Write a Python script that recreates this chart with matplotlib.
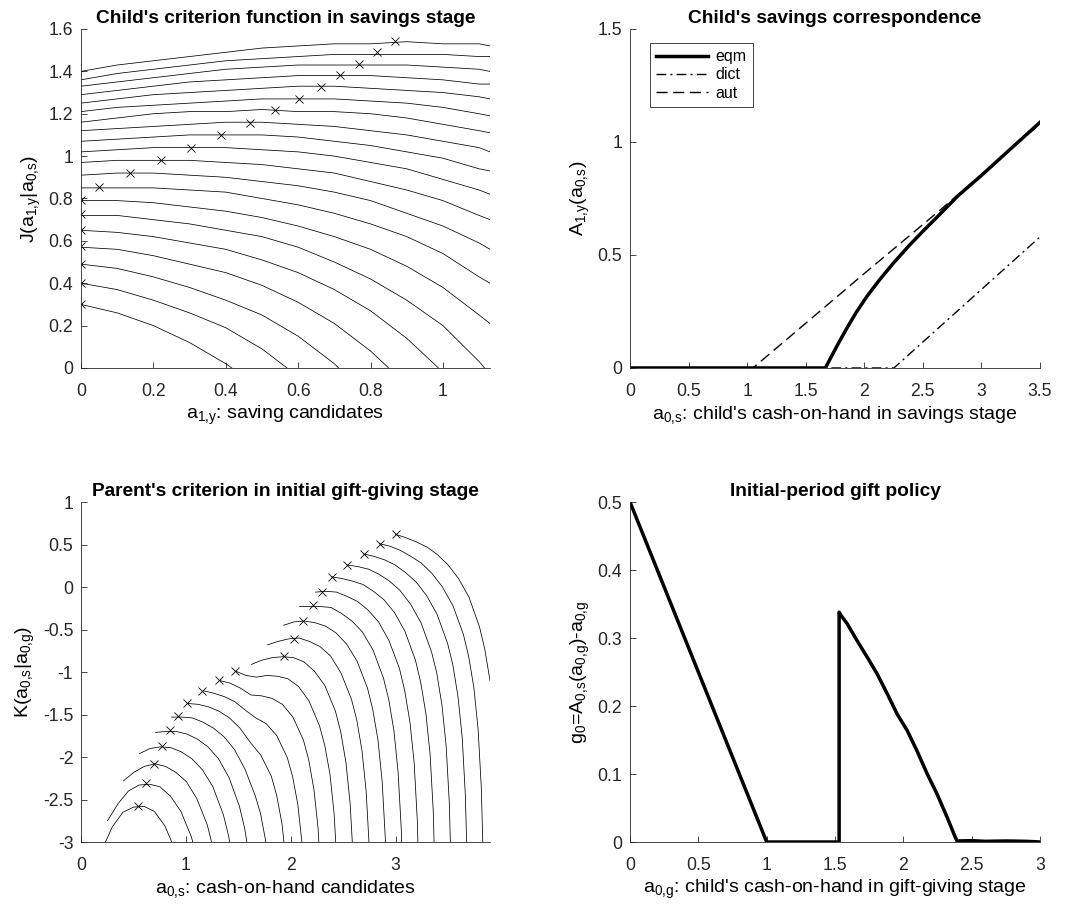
import numpy as np
import matplotlib
matplotlib.use("Agg")
import matplotlib.pyplot as plt
from matplotlib.ticker import FuncFormatter

plt.rcParams['font.family'] = ['Liberation Sans', 'DejaVu Sans']
plt.rcParams['mathtext.fontset'] = 'custom'
plt.rcParams['mathtext.rm'] = 'Liberation Sans'
plt.rcParams['mathtext.it'] = 'Liberation Sans'

# top-left: J(a1|a0s), one row per a0s value, sampled on a shared a1 grid
tl_grid = [0, 0.1, 0.2, 0.3, 0.4, 0.5, 0.6, 0.7, 0.8, 0.9, 1.0, 1.1, 1.13]
tl_y = [
    [0.30, 0.26, 0.20, 0.12, 0.02, -0.10],
    [0.40, 0.37, 0.32, 0.26, 0.19, 0.09, -0.04],
    [0.49, 0.47, 0.43, 0.38, 0.32, 0.25, 0.15, 0.02, -0.15],
    [0.57, 0.56, 0.53, 0.49, 0.45, 0.39, 0.31, 0.21, 0.08, -0.08],
    [0.65, 0.64, 0.62, 0.59, 0.56, 0.51, 0.45, 0.37, 0.27, 0.14, -0.02],
    [0.72, 0.72, 0.70, 0.68, 0.65, 0.62, 0.57, 0.50, 0.42, 0.32, 0.20, 0.03, -0.03],
    [0.79, 0.79, 0.78, 0.76, 0.74, 0.71, 0.67, 0.62, 0.56, 0.48, 0.38, 0.25, 0.21],
    [0.85, 0.85, 0.85, 0.84, 0.83, 0.80, 0.77, 0.73, 0.68, 0.62, 0.54, 0.43, 0.40],
    [0.91, 0.92, 0.92, 0.91, 0.90, 0.88, 0.86, 0.83, 0.79, 0.73, 0.67, 0.59, 0.56],
    [0.97, 0.98, 0.98, 0.98, 0.97, 0.96, 0.94, 0.92, 0.88, 0.84, 0.79, 0.72, 0.70],
    [1.02, 1.03, 1.04, 1.04, 1.04, 1.03, 1.02, 1.00, 0.97, 0.94, 0.89, 0.84, 0.82],
    [1.07, 1.08, 1.09, 1.10, 1.10, 1.10, 1.09, 1.07, 1.05, 1.02, 0.99, 0.94, 0.93],
    [1.12, 1.13, 1.14, 1.15, 1.16, 1.16, 1.15, 1.14, 1.12, 1.10, 1.07, 1.04, 1.02],
    [1.16, 1.18, 1.20, 1.21, 1.21, 1.22, 1.21, 1.21, 1.20, 1.18, 1.15, 1.12, 1.11],
    [1.21, 1.23, 1.24, 1.25, 1.26, 1.27, 1.27, 1.27, 1.26, 1.25, 1.23, 1.20, 1.19],
    [1.25, 1.27, 1.29, 1.30, 1.31, 1.32, 1.33, 1.33, 1.32, 1.31, 1.30, 1.28, 1.27],
    [1.29, 1.31, 1.33, 1.35, 1.36, 1.37, 1.38, 1.38, 1.38, 1.37, 1.36, 1.34, 1.34],
    [1.33, 1.35, 1.37, 1.39, 1.41, 1.42, 1.43, 1.43, 1.43, 1.43, 1.42, 1.41, 1.40],
    [1.36, 1.39, 1.41, 1.43, 1.45, 1.46, 1.47, 1.48, 1.48, 1.48, 1.48, 1.47, 1.47],
    [1.40, 1.43, 1.45, 1.47, 1.49, 1.51, 1.52, 1.53, 1.53, 1.54, 1.53, 1.53, 1.52],
]
# maxima of each curve (x marks)
tl_mx = [0, 0, 0, 0, 0, 0, 0, 0.05, 0.135, 0.221, 0.305, 0.386, 0.466, 0.536, 0.603,
         0.662, 0.715, 0.767, 0.817, 0.868]
tl_my = [0.30, 0.40, 0.491, 0.574, 0.653, 0.725, 0.793, 0.856, 0.919, 0.980, 1.038, 1.101,
         1.156, 1.218, 1.271, 1.326, 1.383, 1.436, 1.490, 1.542]

# top-right: savings correspondences
tr_x = [0, 1.668, 1.72, 1.78, 1.85, 1.93, 2.02, 2.13, 2.25, 2.38, 2.5, 2.62, 2.8, 3.0, 3.25, 3.5]
tr_eqm = [0, 0, 0.052, 0.11, 0.175, 0.245, 0.315, 0.39, 0.465, 0.54, 0.605, 0.667, 0.762,
          0.852, 0.97, 1.087]
aut_x = [0, 1.05, 2.0, 2.65, 3.5]
aut_y = [0, 0, 0.418, 0.70, 1.08]
dict_x = [0, 2.253, 3.5]
dict_y = [0, 0, 0.58]

# bottom-left: K(a0s|a0g), one curve per a0g value
bl_x = [
    [0.1, 0.2, 0.3, 0.4, 0.5, 0.6, 0.7, 0.8, 0.9],
    [0.253, 0.353, 0.453, 0.553, 0.653, 0.753, 0.853, 0.953, 1.053, 1.103],
    [0.405, 0.505, 0.605, 0.705, 0.805, 0.905, 1.005, 1.105, 1.205, 1.255],
    [0.558, 0.658, 0.758, 0.858, 0.958, 1.058, 1.158, 1.258, 1.358, 1.408, 1.458],
    [0.711, 0.811, 0.911, 1.011, 1.111, 1.211, 1.311, 1.411, 1.511, 1.561, 1.611],
    [0.863, 0.963, 1.063, 1.163, 1.263, 1.363, 1.463, 1.563, 1.663, 1.713, 1.763],
    [1.016, 1.116, 1.216, 1.316, 1.416, 1.516, 1.616, 1.716, 1.816, 1.866, 1.916, 1.956],
    [1.168, 1.268, 1.368, 1.468, 1.568, 1.668, 1.768, 1.868, 1.968, 2.018, 2.068, 2.108],
    [1.321, 1.421, 1.521, 1.621, 1.721, 1.821, 1.921, 2.021, 2.121, 2.171, 2.221, 2.261, 2.291],
    [1.474, 1.574, 1.674, 1.774, 1.874, 1.974, 2.074, 2.174, 2.274, 2.324, 2.374, 2.414, 2.444],
    [1.626, 1.726, 1.826, 1.926, 2.026, 2.126, 2.226, 2.326, 2.426, 2.476, 2.526, 2.566, 2.596],
    [1.779, 1.879, 1.979, 2.079, 2.179, 2.279, 2.379, 2.479, 2.579, 2.629, 2.679, 2.719, 2.749],
    [1.932, 2.032, 2.132, 2.232, 2.332, 2.432, 2.532, 2.632, 2.732, 2.782, 2.832, 2.872, 2.902,
     2.917],
    [2.084, 2.184, 2.284, 2.384, 2.484, 2.584, 2.684, 2.784, 2.884, 2.934, 2.984, 3.024, 3.054,
     3.069],
    [2.237, 2.337, 2.437, 2.537, 2.637, 2.737, 2.837, 2.937, 3.037, 3.087, 3.137, 3.177, 3.207,
     3.222],
    [2.389, 2.489, 2.589, 2.689, 2.789, 2.889, 2.989, 3.089, 3.189, 3.239, 3.289, 3.329, 3.359,
     3.374],
    [2.542, 2.642, 2.742, 2.842, 2.942, 3.042, 3.142, 3.242, 3.342, 3.392, 3.442, 3.482, 3.512,
     3.527],
    [2.695, 2.795, 2.895, 2.995, 3.095, 3.195, 3.295, 3.395, 3.495, 3.545, 3.595, 3.635, 3.665,
     3.680],
    [2.847, 2.947, 3.047, 3.147, 3.247, 3.347, 3.447, 3.547, 3.647, 3.697, 3.747, 3.787, 3.817,
     3.832],
    [3.0, 3.1, 3.2, 3.3, 3.4, 3.5, 3.6, 3.7, 3.8, 3.85, 3.9],
]
bl_y = [
    [-3.45, -3.09, -2.82, -2.65, -2.59, -2.58, -2.64, -2.81, -3.10],
    [-2.75, -2.55, -2.40, -2.33, -2.32, -2.35, -2.46, -2.64, -2.94, -3.18],
    [-2.28, -2.18, -2.11, -2.08, -2.11, -2.18, -2.29, -2.49, -2.80, -3.05],
    [-1.96, -1.90, -1.88, -1.89, -1.94, -2.02, -2.15, -2.35, -2.68, -2.93, -3.30],
    [-1.71, -1.70, -1.70, -1.73, -1.79, -1.88, -2.02, -2.24, -2.58, -2.84, -3.22],
    [-1.53, -1.53, -1.54, -1.59, -1.66, -1.76, -1.91, -2.14, -2.46, -2.67, -3.00],
    [-1.37, -1.38, -1.41, -1.46, -1.54, -1.66, -1.83, -1.98, -2.23, -2.45, -2.78, -3.23],
    [-1.22, -1.25, -1.29, -1.35, -1.45, -1.54, -1.61, -1.75, -2.01, -2.23, -2.56, -3.02],
    [-1.10, -1.13, -1.19, -1.27, -1.28, -1.31, -1.38, -1.53, -1.80, -2.03, -2.38, -2.84, -3.50],
    [-0.99, -1.04, -1.06, -1.04, -1.05, -1.08, -1.17, -1.34, -1.63, -1.86, -2.20, -2.67, -3.34],
    [-0.91, -0.86, -0.83, -0.82, -0.83, -0.88, -0.99, -1.16, -1.46, -1.70, -2.06, -2.54, -3.20],
    [-0.68, -0.64, -0.61, -0.60, -0.64, -0.70, -0.81, -1.01, -1.32, -1.56, -1.92, -2.40, -3.07],
    [-0.45, -0.41, -0.40, -0.42, -0.46, -0.54, -0.67, -0.87, -1.19, -1.44, -1.80, -2.29, -2.96,
     -3.64],
    [-0.23, -0.23, -0.23, -0.24, -0.31, -0.40, -0.53, -0.74, -1.07, -1.32, -1.69, -2.18, -2.85,
     -3.53],
    [-0.06, -0.05, -0.06, -0.11, -0.17, -0.27, -0.41, -0.63, -0.96, -1.22, -1.59, -2.07, -2.75,
     -3.43],
    [0.12, 0.10, 0.07, 0.03, -0.05, -0.15, -0.30, -0.52, -0.86, -1.12, -1.49, -1.97, -2.64, -3.33],
    [0.26, 0.24, 0.21, 0.15, 0.07, -0.04, -0.20, -0.42, -0.76, -1.01, -1.39, -1.87, -2.54, -3.23],
    [0.39, 0.36, 0.32, 0.26, 0.17, 0.06, -0.10, -0.32, -0.66, -0.91, -1.29, -1.77, -2.45, -3.13],
    [0.51, 0.48, 0.43, 0.36, 0.28, 0.16, 0.00, -0.22, -0.56, -0.82, -1.19, -1.68, -2.36, -3.04],
    [0.62, 0.58, 0.53, 0.47, 0.38, 0.26, 0.10, -0.12, -0.47, -0.73, -1.10],
]
bl_mx = [0.548, 0.621, 0.694, 0.771, 0.850, 0.930, 1.013, 1.156, 1.315, 1.471, 1.933, 2.035,
         2.118, 2.217, 2.299, 2.389, 2.538, 2.697, 2.847, 3.003]
bl_my = [-2.577, -2.306, -2.078, -1.875, -1.686, -1.514, -1.365, -1.224, -1.098, -0.988,
         -0.816, -0.612, -0.404, -0.216, -0.059, 0.118, 0.255, 0.392, 0.510, 0.620]

# bottom-right: gift policy
br_x = [0, 1.0, 1.53, 1.53, 1.545, 1.589, 1.662, 1.735, 1.809, 1.882, 1.955, 2.028, 2.10,
        2.175, 2.248, 2.321, 2.382, 2.394, 2.5, 2.6, 2.75, 2.9, 3.0]
br_y = [0.5, 0, 0, 0.338, 0.333, 0.321, 0.296, 0.272, 0.247, 0.218, 0.188, 0.164, 0.134,
        0.10, 0.07, 0.036, 0.006, 0.0015, 0.002, 0.001, 0.0015, 0.001, 0.0]

fig = plt.figure(figsize=(10.68, 9.09), dpi=100)
ax1 = fig.add_axes([0.0758, 0.5952, 0.383, 0.3729])
ax2 = fig.add_axes([0.5899, 0.5952, 0.3839, 0.3729])
ax3 = fig.add_axes([0.0758, 0.0737, 0.383, 0.374])
ax4 = fig.add_axes([0.5899, 0.0737, 0.3839, 0.374])

fmt = FuncFormatter(lambda v, p: '%g' % v)
ink = '#262626'
tsize, lsize, ksize = 13.8, 14, 12.7
for ax in (ax1, ax2, ax3, ax4):
    for s in ('top', 'right'):
        ax.spines[s].set_visible(False)
    for s in ('left', 'bottom'):
        ax.spines[s].set_linewidth(0.6)
        ax.spines[s].set_color(ink)
    ax.tick_params(direction='in', length=4, width=0.6, colors=ink, labelsize=ksize)
    ax.tick_params(axis='x', pad=10.5)
    ax.tick_params(axis='y', pad=5.5)
    ax.xaxis.set_major_formatter(fmt)
    ax.yaxis.set_major_formatter(fmt)

for ys in tl_y:
    ax1.plot(tl_grid[:len(ys)], ys, color='k', lw=0.55)
ax1.plot(tl_mx, tl_my, 'x', color='k', ms=5.5, mew=0.6)
ax1.set_xlim(0, 1.13)
ax1.set_ylim(0, 1.6)
ax1.set_xticks(np.arange(0, 1.01, 0.2))
ax1.set_yticks(np.arange(0, 1.61, 0.2))
ax1.set_title("Child's criterion function in savings stage", fontsize=tsize, fontweight='bold', pad=4)
ax1.set_xlabel(r"$\mathregular{a_{1{,}y}}$: saving candidates", fontsize=lsize, labelpad=3)
ax1.set_ylabel(r"$\mathregular{J(a_{1{,}y}|a_{0{,}s})}$", fontsize=lsize)

ax2.plot(tr_x, tr_eqm, color='k', lw=2.5, label='eqm')
ax2.plot(dict_x, dict_y, color='k', lw=1, dashes=(7, 3, 1.5, 3), label='dict')
ax2.plot(aut_x, aut_y, color='k', lw=1, dashes=(8, 4), label='aut')
ax2.set_xlim(0, 3.5)
ax2.set_ylim(0, 1.5)
ax2.set_xticks(np.arange(0, 3.51, 0.5))
ax2.set_yticks([0, 0.5, 1, 1.5])
ax2.set_title("Child's savings correspondence", fontsize=tsize, fontweight='bold', pad=4)
ax2.set_xlabel(r"$\mathregular{a_{0{,}s}}$: child's cash-on-hand in savings stage", fontsize=lsize, labelpad=3)
ax2.set_ylabel(r"$\mathregular{A_{1{,}y}(a_{0{,}s})}$", fontsize=lsize)
leg = ax2.legend(loc='upper left', bbox_to_anchor=(0.049, 0.959), borderaxespad=0,
                 fancybox=False, edgecolor=ink, framealpha=1, fontsize=11.5, handlelength=3.2,
                 labelspacing=0.2, borderpad=0.4, handletextpad=0.5)
leg.get_frame().set_linewidth(0.6)

for xs, ys in zip(bl_x, bl_y):
    ax3.plot(xs, ys, color='k', lw=0.55)
ax3.plot(bl_mx, bl_my, 'x', color='k', ms=5.5, mew=0.6)
ax3.set_xlim(0, 3.9)
ax3.set_ylim(-3, 1)
ax3.set_xticks([0, 1, 2, 3])
ax3.set_yticks(np.arange(-3, 1.01, 0.5))
ax3.set_title("Parent's criterion in initial gift-giving stage", fontsize=tsize, fontweight='bold', pad=4)
ax3.set_xlabel(r"$\mathregular{a_{0{,}s}}$: cash-on-hand candidates", fontsize=lsize, labelpad=3)
ax3.set_ylabel(r"$\mathregular{K(a_{0{,}s}|a_{0{,}g})}$", fontsize=lsize)

ax4.plot(br_x, br_y, color='k', lw=2.5)
ax4.set_xlim(0, 3)
ax4.set_ylim(0, 0.5)
ax4.set_xticks(np.arange(0, 3.01, 0.5))
ax4.set_yticks(np.arange(0, 0.51, 0.1))
ax4.set_title("Initial-period gift policy", fontsize=tsize, fontweight='bold', pad=4)
ax4.set_xlabel(r"$\mathregular{a_{0{,}g}}$: child's cash-on-hand in gift-giving stage", fontsize=lsize, labelpad=3)
ax4.set_ylabel(r"$\mathregular{g_0}$=$\mathregular{A_{0{,}s}(a_{0{,}g})}$-$\mathregular{a_{0{,}g}}$",
               fontsize=lsize)

fig.savefig('out.png', dpi=100)
